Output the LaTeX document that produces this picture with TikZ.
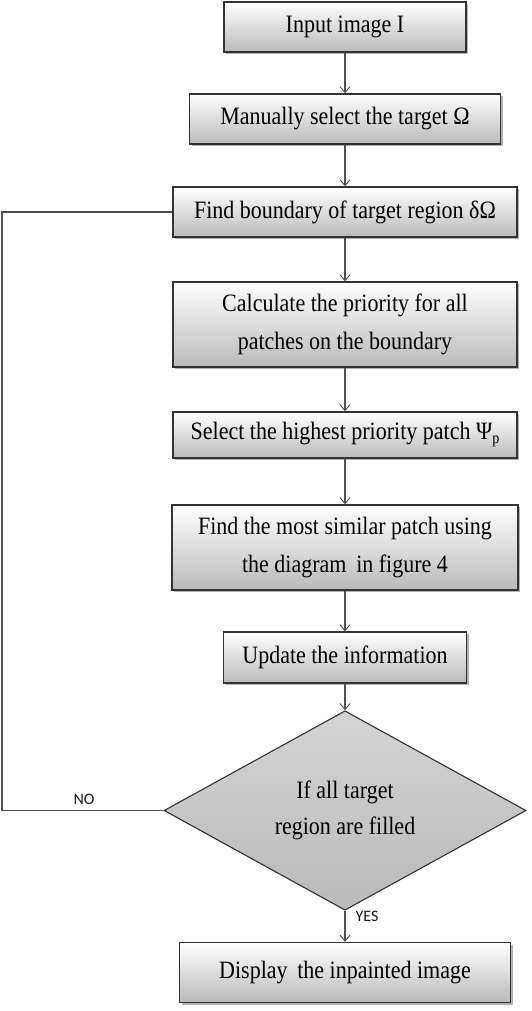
\documentclass[tikz,border=0pt]{standalone}
\usepackage{fontspec}
\setmainfont{Liberation Serif}[FakeStretch=0.88]
\newfontfamily\labelfont{Carlito}
\usetikzlibrary{shapes.geometric,shadows,arrows.meta}
\definecolor{edgegray}{HTML}{333333}
\definecolor{linegray}{HTML}{505050}
\begin{document}
\begin{tikzpicture}[x=1pt,y=-1pt,
  procbox/.style={draw=edgegray, line width=1.3pt, rectangle, inner sep=0pt,
    top color=white, bottom color=black!27,
    drop shadow={shadow xshift=2pt, shadow yshift=-2pt, fill=black, opacity=0.3},
    align=center, font=\fontsize{25}{38}\selectfont},
  decbox/.style={draw=edgegray, line width=1.1pt, diamond, inner sep=0pt,
    top color=black!17, bottom color=black!27,
    align=center, font=\fontsize{25}{36}\selectfont},
  flow/.style={draw=linegray, line width=1.1pt, -{Straight Barb[length=6pt,width=10pt,line width=0.9pt]}},
  loopline/.style={draw=linegray, line width=1.1pt},
  answer/.style={font=\labelfont\fontsize{16}{18}\selectfont, text=black!90}]
\useasboundingbox (0,0) rectangle (531,1011);

\node[procbox, minimum width=242pt, minimum height=50pt] (b1) at (345,27) {Input image I};
\node[procbox, minimum width=311pt, minimum height=50pt] (b2) at (345,119) {Manually select the target Ω};
\node[procbox, minimum width=344pt, minimum height=50pt] (b3) at (345,212) {Find boundary of target region δΩ};
\node[procbox, minimum width=344pt, minimum height=85pt] (b4) at (345,324.5) {Calculate the priority for all\\patches on the boundary};
\node[procbox, minimum width=344pt, minimum height=46pt] (b5) at (345,435) {Select the highest priority patch Ψ\raisebox{-0.35ex}{\fontsize{16}{16}\selectfont p}};
\node[procbox, minimum width=346pt, minimum height=85pt] (b6) at (345,547.5) {Find the most similar patch using\\the diagram\, in figure 4};
\node[procbox, minimum width=243pt, minimum height=51pt] (b7) at (345,657.5) {Update the information};
\node[decbox, minimum width=362pt, minimum height=165pt] (d) at (345,810.5) {If all target\\region are filled};
\node[procbox, minimum width=331pt, minimum height=60pt] (b8) at (345,972.5) {Display\, the inpainted image};

\draw[flow] (b1) -- (b2);
\draw[flow] (b2) -- (b3);
\draw[flow] (b3) -- (b4);
\draw[flow] (b4) -- (b5);
\draw[flow] (b5) -- (b6);
\draw[flow] (b6) -- (b7);
\draw[flow] (b7) -- (d);
\draw[flow] (d) -- (b8);

\coordinate (c1) at (2,810.5);
\coordinate (c2) at (2,212);
\draw[loopline] (d.west) -- (c1) -- (c2) -- (b3.west);

\node[answer] (no) at (84,799) {NO};
\node[answer] (yes) at (367,916) {YES};
\end{tikzpicture}
\end{document}
